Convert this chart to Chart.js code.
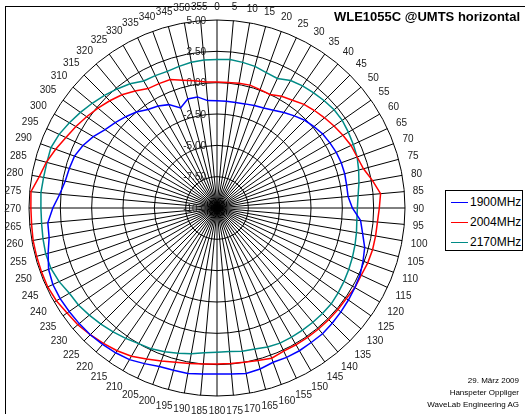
<!DOCTYPE html>
<html>
<head>
<meta charset="utf-8">
<script src="https://cdn.jsdelivr.net/npm/chart.js@4.4.1/dist/chart.umd.min.js"></script>
<style>
  html, body { margin: 0; padding: 0; background: #fff; overflow: hidden; }
  #wrap { position: relative; width: 525px; height: 414px; font-family: "Liberation Sans", Arial, sans-serif; }
  #frame { position: absolute; left: 5px; top: 6px; width: 700px; height: 700px; border-left: 1px solid #000; border-top: 1px solid #000; }
  canvas { position: absolute; left: 0; top: 0; }
  #title { position: absolute; right: 5px; top: 9px; font-size: 13px; font-weight: bold; color: #000; white-space: nowrap; }
  #legend { position: absolute; left: 445px; top: 190px; width: 76px; height: 59px; border: 1px solid #000; background: #fff; }
  .item { position: absolute; left: 5px; height: 14px; font-size: 12px; line-height: 14px; color: #000; white-space: nowrap; }
  .item span { display: inline-block; width: 17px; height: 0; border-top: 1.5px solid; vertical-align: middle; margin-right: 2px; }
  #footer { position: absolute; right: 6px; top: 375px; font-size: 8px; line-height: 12px; text-align: right; color: #000; white-space: nowrap; }
</style>
</head>
<body>
<div id="wrap">
  <div id="frame"></div>
  <canvas id="polar" width="525" height="414"></canvas>
  <div id="title"></div>
  <div id="legend"></div>
  <div id="footer"></div>
</div>
<script>
const titleText = "WLE1055C @UMTS horizontal";
const footerLines = ["29. März 2009", "Hanspeter Oppliger", "WaveLab Engineering AG"];

const angles = [
  "0", "5", "10", "15", "20", "25", "30", "35", "40", "45", "50", "55",
  "60", "65", "70", "75", "80", "85", "90", "95", "100", "105", "110", "115",
  "120", "125", "130", "135", "140", "145", "150", "155", "160", "165", "170", "175",
  "180", "185", "190", "195", "200", "205", "210", "215", "220", "225", "230", "235",
  "240", "245", "250", "255", "260", "265", "270", "275", "280", "285", "290", "295",
  "300", "305", "310", "315", "320", "325", "330", "335", "340", "345", "350", "355",
];

const tickValues = [-10, -7.5, -5, -2.5, 0, 2.5, 5];
const tickLabels = ["-10.0", "-7.50", "-5.00", "-2.50", "0.00", "2.50", "5.00"];

const seriesNames = ["1900MHz", "2004MHz", "2170MHz"];
const seriesColors = ["#0000ff", "#ff0000", "#008b86"];

const mhz1900 = [
  -1.45, -1.45, -1.45, -1.4, -1.3, -1.2, -1.0, -0.7, -0.4, -0.1, 0.1, 0.3,
  0.4, 0.5, 0.55, 0.55, 0.5, 0.5, 0.8, 1.5, 1.8, 2.2, 2.4, 2.6,
  2.7, 2.8, 2.9, 3.0, 3.1, 3.1, 3.15, 3.15, 3.1, 3.3, 3.4, 3.3,
  3.25, 3.3, 3.4, 3.4, 3.45, 3.7, 3.97, 4.1, 4.2, 4.3, 4.35, 4.4,
  4.45, 4.45, 4.3, 3.95, 3.6, 3.55, 3.1, 2.6, 2.3, 2.2, 2.1, 1.8,
  1.4, 0.9, 0.6, 0.3, 0.0, -0.4, -0.6, -0.9, -1.5, -1.0, -1.0, -1.4,
];

const mhz2004 = [
  0.05, 0.05, 0.1, 0.15, 0.05, 0.0, 0.3, 0.5, 0.8, 1.0, 1.2, 1.4,
  1.6, 1.8, 1.9, 2.1, 2.6, 3.1, 2.95, 2.85, 2.85, 2.85, 2.8, 2.7,
  2.7, 2.6, 2.6, 2.6, 2.6, 2.6, 2.6, 2.6, 2.75, 2.6, 2.5, 2.45,
  2.45, 2.5, 2.6, 2.75, 3.0, 3.3, 3.65, 3.9, 4.1, 4.3, 4.5, 4.6,
  4.8, 4.9, 4.9, 4.9, 4.9, 4.85, 4.85, 4.9, 4.4, 4.1, 3.7, 3.3,
  3.0, 2.7, 2.4, 2.1, 1.8, 1.4, 1.0, 0.95, 0.9, 0.55, 0.3, 0.1,
];

const mhz2170 = [
  1.85, 1.9, 1.8, 1.7, 1.5, 1.4, 1.75, 1.9, 2.0, 2.1, 2.2, 2.2,
  2.1, 2.0, 1.9, 1.7, 1.5, 1.3, 1.2, 1.2, 1.3, 1.4, 1.5, 1.6,
  1.7, 1.8, 1.9, 1.9, 1.9, 1.9, 1.9, 1.9, 1.8, 1.65, 1.6, 1.5,
  1.5, 1.6, 1.8, 2.0, 2.2, 2.4, 2.5, 2.7, 2.9, 3.1, 3.3, 3.5,
  3.6, 3.9, 4.1, 4.15, 4.1, 4.05, 4.05, 4.1, 4.05, 4.05, 4.1, 3.9,
  3.6, 3.3, 3.0, 2.7, 2.4, 2.1, 1.7, 1.65, 1.6, 1.7, 1.8, 1.85,
];

const FONT = '"Liberation Sans", Arial, sans-serif';

function byId(id) {
  return document.getElementById(id);
}

function buildText() {
  byId("title").textContent = titleText;
  const legend = byId("legend");
  seriesNames.forEach((name, i) => {
    const div = document.createElement("div");
    div.className = "item";
    div.style.top = (4 + i * 20) + "px";
    const sw = document.createElement("span");
    sw.style.borderColor = seriesColors[i];
    div.appendChild(sw);
    div.appendChild(document.createTextNode(name));
    legend.appendChild(div);
  });
  byId("footer").innerHTML = footerLines.join("<br>");
}

// tick labels and angle labels, placed with the radial scale
const polarLabels = {
  id: "polarLabels",
  beforeDatasetsDraw(chart) {
    const scale = chart.scales.r;
    const ctx = chart.ctx;
    ctx.save();
    ctx.fillStyle = "#222";
    ctx.font = "10px " + FONT;

    ctx.textAlign = "right";
    ctx.textBaseline = "middle";
    tickValues.forEach((v, i) => {
      const d = scale.getDistanceFromCenterForValue(v);
      ctx.fillText(tickLabels[i], scale.xCenter - 11, scale.yCenter - d + 1);
    });

    ctx.textAlign = "center";
    const gap = 8;
    angles.forEach((label, i) => {
      const w = ctx.measureText(label).width;
      const a = scale.getIndexAngle(i) - Math.PI / 2;
      const ext = Math.abs(Math.cos(a)) * w / 2 + Math.abs(Math.sin(a)) * 6;
      const pos = scale.getPointPosition(i, scale.drawingArea + gap + ext);
      ctx.fillText(label, pos.x, pos.y + 1);
    });
    ctx.restore();
  },
};

function makeDataset(label, data, color) {
  return {
    label,
    data,
    borderColor: color,
    backgroundColor: color,
    borderWidth: 1.5,
    pointRadius: 0,
    fill: false,
    tension: 0,
  };
}

function renderChart() {
  new Chart(byId("polar"), {
    type: "radar",
    data: {
      labels: angles,
      datasets: [
        makeDataset(seriesNames[0], mhz1900, seriesColors[0]),
        makeDataset(seriesNames[1], mhz2004, seriesColors[1]),
        makeDataset(seriesNames[2], mhz2170, seriesColors[2]),
      ],
    },
    options: {
      responsive: false,
      animation: false,
      layout: { padding: { left: 29, top: 20, right: 120, bottom: 18 } },
      plugins: {
        legend: { display: false },
        tooltip: { enabled: false },
      },
      scales: {
        r: {
          min: -10,
          max: 5,
          ticks: { stepSize: 2.5, display: false },
          grid: { circular: true, color: "#000", lineWidth: 1 },
          angleLines: { color: "#000", lineWidth: 1 },
          pointLabels: { display: false },
        },
      },
    },
    plugins: [polarLabels],
  });
}

buildText();
renderChart();
</script>
</body>
</html>
